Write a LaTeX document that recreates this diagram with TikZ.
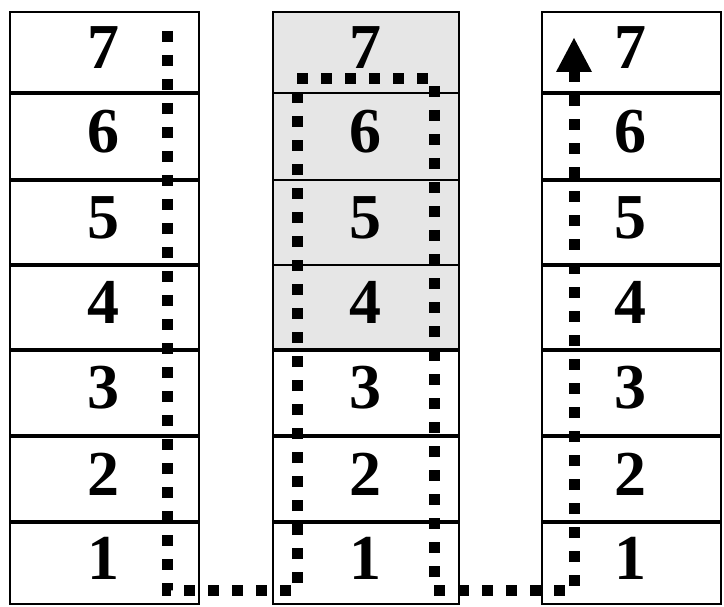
\documentclass[tikz,border=0pt]{standalone}
\usepackage{fontspec}
\setmainfont{Liberation Serif}
\usetikzlibrary{arrows.meta}
\definecolor{cellgray}{RGB}{230,230,230}
\tikzset{
  cell/.style={draw=black, line width=2pt, inner sep=0pt, outer sep=0pt},
  digit/.style={inner sep=0pt, font=\fontsize{64}{64}\selectfont\bfseries},
  divider/.style={line width=4.5pt},
  route/.style={line width=11pt, dash pattern=on 11pt off 13pt,
    -{Triangle[width=36pt,length=34pt,line width=0pt]}}
}
\begin{document}
\begin{tikzpicture}[x=1pt,y=-1pt]
\useasboundingbox (0,0) rectangle (724,607);
\foreach \r/\t/\b/\f in {7/12/93/cellgray,6/93/180/cellgray,5/180/265/cellgray,4/265/350/cellgray,3/350/436/white,2/436/522/white,1/522/604/white}{
  \node[cell, fill=white, minimum width={189pt}, minimum height={(\b-\t)*1pt}] (L\r) at ({104.5},{(\t+\b)/2}) {};
  \node[cell, fill=\f, minimum width={186pt}, minimum height={(\b-\t)*1pt}] (M\r) at ({366},{(\t+\b)/2}) {};
  \node[cell, fill=white, minimum width={179pt}, minimum height={(\b-\t)*1pt}] (R\r) at ({631.5},{(\t+\b)/2}) {};
  \node[digit] (L\r n) at ({103},{(\t+\b)/2-5}) {\r};
  \node[digit] (M\r n) at ({365},{(\t+\b)/2-5}) {\r};
  \node[digit] (R\r n) at ({630},{(\t+\b)/2-5}) {\r};
}
\foreach \r in {2,...,7}{
  \draw[divider] (L\r.south west) -- (L\r.south east);
  \draw[divider] (R\r.south west) -- (R\r.south east);
}
\foreach \r in {2,3,4}{
  \draw[divider] (M\r.south west) -- (M\r.south east);
}
\coordinate (a) at (167,31);
\coordinate (b) at (167,590);
\coordinate (c) at (297,590);
\coordinate (d) at (297,79);
\coordinate (e) at (434,79);
\coordinate (f) at (434,590);
\coordinate (g) at (574,590);
\coordinate (h) at (574,38);
\draw[route] (a) -- (b) -- (c) -- (d) -- (e) -- (f) -- (g) -- (h);
\end{tikzpicture}
\end{document}
